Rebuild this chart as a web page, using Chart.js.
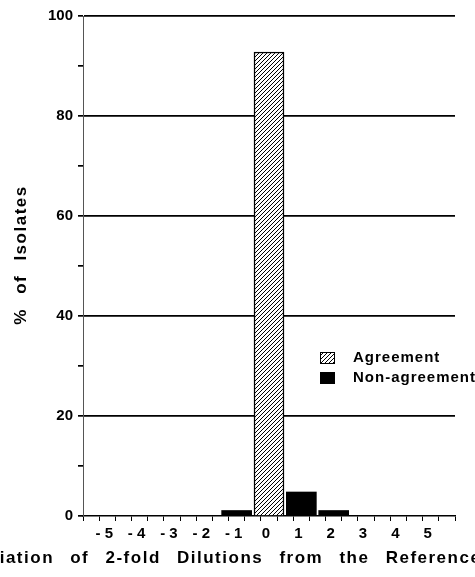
<!DOCTYPE html>
<html>
<head>
<meta charset="utf-8">
<script src="https://cdn.jsdelivr.net/npm/chart.js@4/dist/chart.umd.min.js"></script>
<style>
body{margin:0;background:#fff;}
</style>
</head>
<body>
<canvas id="chart" width="475" height="577"></canvas>
<script>
// deviations of 2-fold dilutions, -5 .. 5
var deviations=[-5,-4,-3,-2,-1,0,1,2,3,4,5];
var tickLabels=["- 5","- 4","- 3","- 2","- 1","0","1","2","3","4","5"];
var agreement=[null,null,null,null,null,92.8,null,null,null,null,null];
var nonAgreement=[null,null,null,null,1.1,null,4.8,1.1,null,null,null];
var yTicks=[0,20,40,60,80,100];

var FONT="'Liberation Sans', Arial, Helvetica, sans-serif";

//斜线填充
function makeHatch(){
    var c=document.createElement("canvas");
    c.width=4;c.height=4;
    var g=c.getContext("2d");
    g.fillStyle="#fff";
    g.fillRect(0,0,4,4);
    g.strokeStyle="#000";
    g.lineWidth=1;
    g.beginPath();
    g.moveTo(-1,5);g.lineTo(5,-1);
    g.moveTo(-1,1);g.lineTo(1,-1);
    g.moveTo(3,5);g.lineTo(5,3);
    g.stroke();
    return g.createPattern(c,"repeat");
}
var hatch=makeHatch();

function points(list){
    var out=[];
    for(var i=0;i<deviations.length;i++){
        out.push({x:deviations[i],y:list[i]});
    }
    return out;
}

//标题与图例
var decorPlugin={
    id:"decor",
    afterDraw:function(chart){
        var ctx=chart.ctx;
        ctx.save();
        ctx.fillStyle="#000";
        ctx.font="bold 17px "+FONT;
        ctx.letterSpacing="1.5px";
        ctx.wordSpacing="10px";
        ctx.textBaseline="middle";
        ctx.textAlign="left";
        ctx.fillText("Deviation of 2-fold Dilutions from the Reference",-36,558);

        ctx.save();
        ctx.translate(21,255);
        ctx.rotate(-Math.PI/2);
        ctx.textAlign="center";
        ctx.wordSpacing="8px";
        ctx.fillText("% of Isolates",0,0);
        ctx.restore();

        ctx.font="bold 15px "+FONT;
        ctx.letterSpacing="1px";
        ctx.wordSpacing="0px";
        var ds=chart.data.datasets;
        var rows=[358,378];
        for(var i=0;i<ds.length;i++){
            ctx.fillStyle=ds[i].backgroundColor;
            ctx.fillRect(320,rows[i]-6,15,12);
            ctx.strokeStyle="#000";
            ctx.lineWidth=1;
            ctx.strokeRect(320.5,rows[i]-5.5,14,11);
            ctx.fillStyle="#000";
            ctx.fillText(ds[i].label,353,rows[i]);
        }
        ctx.restore();
    }
};

var chart=new Chart(document.getElementById("chart"),{
    type:"bar",
    data:{
        datasets:[
            {
                label:"Agreement",
                data:points(agreement),
                backgroundColor:hatch,
                borderColor:"#000",
                borderWidth:1.5
            },
            {
                label:"Non-agreement",
                data:points(nonAgreement),
                backgroundColor:"#000",
                borderColor:"#000",
                borderWidth:0
            }
        ]
    },
    options:{
        responsive:false,
        animation:false,
        layout:{padding:{top:16,right:20,left:0,bottom:0}},
        datasets:{bar:{grouped:false,barThickness:30}},
        plugins:{legend:{display:false},tooltip:{enabled:false}},
        scales:{
            x:{
                type:"linear",
                min:-5.5,
                max:5.5,
                afterFit:function(s){s.height=61;},
                ticks:{
                    stepSize:0.5,
                    autoSkip:false,
                    maxRotation:0,
                    padding:4,
                    labelOffset:-3,
                    color:"#000",
                    font:{family:FONT,size:15,weight:"bold"},
                    callback:function(v){
                        var i=deviations.indexOf(v);
                        return i<0?"":tickLabels[i];
                    }
                },
                grid:{drawOnChartArea:false,tickLength:5,tickColor:"#000",tickWidth:1},
                border:{color:"#000",width:1.5}
            },
            y:{
                min:0,
                max:100,
                afterFit:function(s){s.width=83;},
                ticks:{
                    stepSize:10,
                    padding:5,
                    color:"#000",
                    font:{family:FONT,size:15,weight:"bold"},
                    callback:function(v){
                        return yTicks.indexOf(v)<0?"":v;
                    }
                },
                grid:{
                    tickLength:5,
                    tickColor:"#000",
                    lineWidth:1.7,
                    color:function(c){
                        var v=c.tick?c.tick.value:0;
                        return (v>0&&yTicks.indexOf(v)>=0)?"#000":"rgba(0,0,0,0)";
                    }
                },
                border:{color:"#555",width:1}
            }
        }
    },
    plugins:[decorPlugin]
});
</script>
</body>
</html>
